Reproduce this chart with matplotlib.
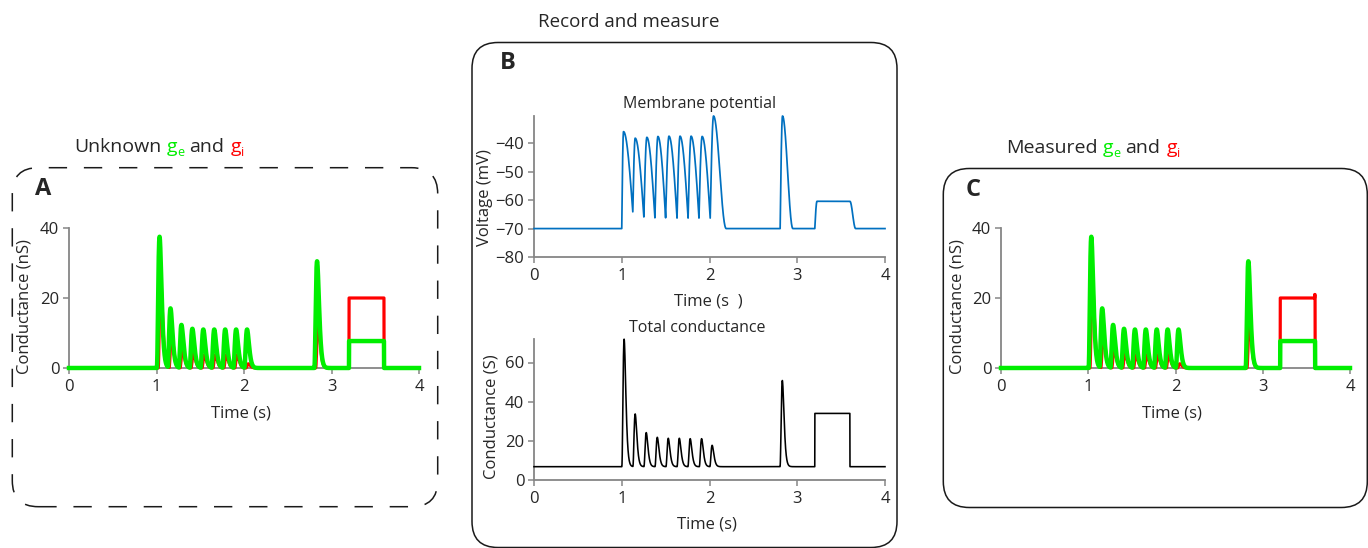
import numpy as np
import matplotlib
matplotlib.use('Agg')
from matplotlib import pyplot as plt
from matplotlib.patches import FancyBboxPatch

plt.rcParams['font.family'] = ['Open Sans', 'DejaVu Sans']

# ---- data ----
# excitatory (green) and inhibitory (red) conductance pulses, nS
ge_peak_t = [1.035, 1.16, 1.285, 1.41, 1.535, 1.66, 1.785, 1.91, 2.035, 2.835]
ge_peak = [37.5, 17.0, 12.3, 11.2, 11.0, 11.0, 11.0, 11.0, 11.0, 30.5]
gi_peak_t = [1.048, 1.173, 1.298, 1.423, 1.548, 1.673, 1.798, 1.923, 2.05, 2.848]
gi_peak = [25.0, 10.0, 5.5, 4.2, 3.8, 3.8, 3.8, 3.8, 1.2, 13.5]
step_on, step_off = 3.2, 3.6
ge_step = 7.7
gi_step = 20.0
gi_step_end_measured = 21.0

# total conductance (black)
gt_base = 6.8
gt_peak_t = [1.027, 1.153, 1.279, 1.405, 1.53, 1.656, 1.78, 1.91, 2.03, 2.83]
gt_peak = [71.9, 33.7, 24.2, 21.8, 21.3, 21.3, 21.1, 21.1, 17.7, 50.8]
gt_step = 34.0

# membrane potential knots (peaks / troughs), mV
v_base = -70.0
v_knot_t = [0, 1.0, 1.02, 1.126, 1.153, 1.252, 1.286, 1.378, 1.412, 1.50, 1.538,
            1.63, 1.664, 1.756, 1.79, 1.88, 1.916, 2.008, 2.046, 2.19,
            2.805, 2.832, 2.95, 3.2, 3.225, 3.6, 3.665, 4.0]
v_knot = [-70, -70, -35.9, -64.1, -38.2, -65.9, -37.9, -66.2, -37.6, -66.2, -37.5,
          -66.3, -37.5, -66.3, -37.5, -66.3, -37.6, -66.3, -30.4, -70,
          -70, -30.4, -70, -70, -60.4, -60.4, -70, -70]

time_ticks = [0, 1, 2, 3, 4]

GREEN = '#00ee00'
RED = '#ff0000'
BLUE = '#0070c0'
TXT = '#262626'
AXC = '#868686'
FS = 12

t = np.linspace(0, 4, 8001)


def pulses(peak_t, peaks, base=0.0, rise=0.03, n=3):
    y = np.full_like(t, base)
    for tp, a in zip(peak_t, peaks):
        s = t - (tp - rise)
        k = np.where(s > 0, ((s / rise) * np.exp(1 - s / rise)) ** n, 0.0)
        y += (a - base) * k
    return y


def step(y, top):
    y = y.copy()
    m = (t >= step_on) & (t < step_off)
    y[m] = top
    return y


def knots(kt, kv, base):
    v = np.full_like(t, kv[0])
    for i in range(len(kt) - 1):
        t0, t1, v0, v1 = kt[i], kt[i + 1], kv[i], kv[i + 1]
        m = (t >= t0) & (t <= t1)
        u = (t[m] - t0) / (t1 - t0)
        if v1 > v0:
            e = np.sin(np.pi / 2 * u)
        elif v1 == base:
            e = 0.5 - 0.5 * np.cos(np.pi * u)
        else:
            e = 1 - np.cos(np.pi / 2 * u)
        v[m] = v0 + (v1 - v0) * e
    return v


ge = step(pulses(ge_peak_t, ge_peak, rise=0.032), ge_step)
gi = step(pulses(gi_peak_t, gi_peak, rise=0.03), gi_step)
gi_meas = gi.copy()
gi_meas[(t >= step_off - 0.006) & (t < step_off)] = gi_step_end_measured
gtot = step(pulses(gt_peak_t, gt_peak, base=gt_base, rise=0.027), gt_step)
volt = knots(v_knot_t, v_knot, v_base)

W, H = 1368, 548
fig = plt.figure(figsize=(W / 100, H / 100), dpi=100)


def px_axes(l, top, r, b):
    return fig.add_axes([l / W, 1 - b / H, (r - l) / W, (b - top) / H])


def style(ax, ylim, yticks):
    ax.set_xlim(0, 4)
    ax.set_ylim(*ylim)
    ax.set_xticks(time_ticks)
    ax.set_yticks(yticks)
    for s in ['top', 'right']:
        ax.spines[s].set_visible(False)
    for s in ['left', 'bottom']:
        ax.spines[s].set_color(AXC)
        ax.spines[s].set_linewidth(1.3)
        ax.spines[s].set_zorder(1)
    ax.tick_params(direction='out', length=4, width=1.1, color=AXC,
                   labelsize=FS, labelcolor=TXT)
    ax.tick_params(axis='x', pad=4)
    ax.tick_params(axis='y', pad=3)


def box(x0, y0, x1, y1, dashed=False):
    p = FancyBboxPatch(((x0) / 100, (H - y1) / 100), (x1 - x0) / 100, (y1 - y0) / 100,
                       boxstyle='round,pad=0,rounding_size=0.26',
                       transform=fig.dpi_scale_trans, fill=False,
                       edgecolor='#1a1a1a', linewidth=1.1,
                       linestyle=(0, (12, 11)) if dashed else '-')
    fig.add_artist(p)


def fx(x):
    return x / W


def fy(y):
    return 1 - y / H


def rich(ax, x, y, parts):
    # parts: (text, color, size, dx, dy) - dy for subscripts
    first = fig.text(fx(x), fy(y), parts[0][0], color=parts[0][1],
                     fontsize=parts[0][2], va='baseline', ha='left')
    prev = first
    for s, c, fs, dx, dy in parts[1:]:
        prev = ax.annotate(s, xy=(1, 0), xycoords=(prev, first),
                           xytext=(dx, dy), textcoords='offset points',
                           color=c, fontsize=fs, va='bottom', ha='left',
                           annotation_clip=False)


# ---- panel A ----
axA = px_axes(69, 228, 419, 368)
axA.plot(t, gi, color=RED, lw=2.3, clip_on=False)
axA.plot(t, ge, color=GREEN, lw=3.2, clip_on=False)
style(axA, (0, 40), [0, 20, 40])
axA.set_ylabel('Conductance (nS)', fontsize=FS, color=TXT)
axA.yaxis.set_label_coords(-0.103, 0.44)
axA.set_xlabel('Time (s)', fontsize=FS, color=TXT)
axA.xaxis.set_label_coords(0.49, -0.265)
box(12.3, 167.7, 437.7, 506.7, dashed=True)
fig.text(fx(35), fy(195), 'A', fontsize=17, fontweight='bold', color=TXT, va='baseline')
rich(axA, 74, 152.3, [('Unknown', TXT, 14, 0, 0), ('g', GREEN, 14, 4, 0),
                      ('e', GREEN, 9, 0, -2.2), ('and', TXT, 14, 3.6, 0),
                      ('g', RED, 14, 4.2, 0), ('i', RED, 9, 0, -2.2)])

# ---- panel B ----
axV = px_axes(534, 116, 885, 257)
axV.plot(t, volt, color=BLUE, lw=1.25, clip_on=False)
style(axV, (-80, -30.4), [-80, -70, -60, -50, -40])
axV.set_ylabel('Voltage (mV)', fontsize=FS, color=TXT)
axV.yaxis.set_label_coords(-0.117, 0.42)
axV.set_xlabel('Time (s  )', fontsize=FS, color=TXT)
axV.xaxis.set_label_coords(0.496, -0.26)
fig.text(fx(700), fy(108.3), 'Membrane potential', fontsize=11.5, color=TXT,
         ha='center', va='baseline')

axG = px_axes(534, 339, 885, 480)
axG.plot(t, gtot, color='black', lw=1.15, clip_on=False)
style(axG, (0, 72), [0, 20, 40, 60])
axG.set_ylabel('Conductance (S)', fontsize=FS, color=TXT)
axG.yaxis.set_label_coords(-0.097, 0.447)
axG.set_xlabel('Time (s)', fontsize=FS, color=TXT)
axG.xaxis.set_label_coords(0.492, -0.26)
fig.text(fx(697), fy(331.7), 'Total conductance', fontsize=11.5, color=TXT,
         ha='center', va='baseline')

box(472, 42.5, 897, 547.5)
fig.text(fx(500), fy(69), 'B', fontsize=17, fontweight='bold', color=TXT, va='baseline')
fig.text(fx(538), fy(27.3), 'Record and measure', fontsize=13.5, color=TXT,
         va='baseline', ha='left')

# ---- panel C ----
axC = px_axes(1001, 228, 1350, 368)
axC.plot(t, gi_meas, color=RED, lw=2.3, clip_on=False)
axC.plot(t, ge, color=GREEN, lw=3.2, clip_on=False)
style(axC, (0, 40), [0, 20, 40])
axC.set_ylabel('Conductance (nS)', fontsize=FS, color=TXT)
axC.yaxis.set_label_coords(-0.103, 0.44)
axC.set_xlabel('Time (s)', fontsize=FS, color=TXT)
axC.xaxis.set_label_coords(0.49, -0.265)
box(943.3, 168.5, 1367.3, 507.5)
fig.text(fx(966), fy(196.5), 'C', fontsize=17, fontweight='bold', color=TXT, va='baseline')
rich(axC, 1005.7, 153.3, [('Measured', TXT, 14, 0, 0), ('g', GREEN, 14, 4, 0),
                          ('e', GREEN, 9, 0, -2.2), ('and', TXT, 14, 3.6, 0),
                          ('g', RED, 14, 4.2, 0), ('i', RED, 9, 0, -2.2)])

fig.savefig('out.png', dpi=100)
